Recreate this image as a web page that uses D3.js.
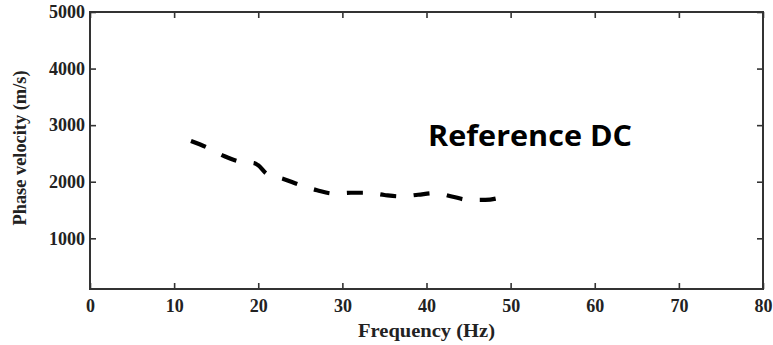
<!DOCTYPE html>
<html><head><meta charset="utf-8">
<script src="https://cdn.jsdelivr.net/npm/d3@7"></script>
<style>body{margin:0;background:#fff}svg{display:block}</style>
</head><body><svg id="c" width="773" height="345"></svg>
<script>
const freq = [12, 14, 16, 18, 19.5, 20, 21, 23, 25, 27, 29, 31, 33, 35, 37, 39, 41, 43, 45, 47, 49];
const velocity = [2720, 2600, 2450, 2350, 2330, 2290, 2140, 2050, 1940, 1850, 1790, 1805, 1805, 1765, 1740, 1770, 1800, 1740, 1680, 1680, 1730];
const xTicks = [0, 10, 20, 30, 40, 50, 60, 70, 80];
const yTicks = [1000, 2000, 3000, 4000, 5000];
const xTitle = "Frequency (Hz)";
const yTitle = "Phase velocity (m/s)";
const label = "Reference DC";

const svg = d3.select("#c");
const L = 90, R = 763, T = 12, B = 289;
const x = d3.scaleLinear().domain([0, 80]).range([L, R]);
const y = d3.scaleLinear().domain([104, 5000]).range([B, T]);
const serif = "'Liberation Serif','Times New Roman',serif";
const axCol = "#333";

function styleAxis(g){
  g.select(".domain").remove();
  g.selectAll(".tick line").attr("stroke", axCol).attr("stroke-width", 1.6);
  g.selectAll("text").attr("font-family", serif).attr("font-weight", "bold")
    .attr("font-size", 18).attr("fill", "#222");
}
svg.append("g").attr("transform", `translate(0,${B})`)
  .call(d3.axisBottom(x).tickValues(xTicks).tickSizeInner(-6).tickSizeOuter(0).tickPadding(10).tickFormat(d3.format("d")))
  .call(styleAxis);
svg.append("g").attr("transform", `translate(0,${T})`)
  .call(d3.axisTop(x).tickValues(xTicks).tickSizeInner(-6).tickSizeOuter(0).tickFormat(""))
  .call(styleAxis);
svg.append("g").attr("transform", `translate(${L},0)`)
  .call(d3.axisLeft(y).tickValues(yTicks).tickSizeInner(-6).tickSizeOuter(0).tickPadding(5).tickFormat(d3.format("d")))
  .call(styleAxis);
svg.append("g").attr("transform", `translate(${R},0)`)
  .call(d3.axisRight(y).tickValues(yTicks).tickSizeInner(-6).tickSizeOuter(0).tickFormat(""))
  .call(styleAxis);

svg.append("rect").attr("x", L).attr("y", T).attr("width", R - L).attr("height", B - T)
  .attr("fill", "none").attr("stroke", axCol).attr("stroke-width", 2);

const line = d3.line().x((d, i) => x(freq[i])).y(d => y(d)).curve(d3.curveMonotoneX);
svg.append("path").datum(velocity).attr("d", line).attr("fill", "none")
  .attr("stroke", "#000").attr("stroke-width", 4.2).attr("stroke-dasharray", "16,17.5");

svg.append("text").attr("x", (358 + 495) / 2).attr("y", 337).attr("text-anchor", "middle")
  .attr("font-family", serif).attr("font-weight", "bold").attr("font-size", 19).attr("fill", "#222")
  .attr("textLength", 137).attr("lengthAdjust", "spacingAndGlyphs").text(xTitle);
svg.append("text").attr("transform", "translate(26,148) rotate(-90)").attr("text-anchor", "middle")
  .attr("font-family", serif).attr("font-weight", "bold").attr("font-size", 18).attr("fill", "#222")
  .attr("textLength", 155).attr("lengthAdjust", "spacingAndGlyphs").text(yTitle);

svg.append("text").attr("x", 428).attr("y", 146).attr("font-family", "'Open Sans','Noto Sans',sans-serif")
  .attr("font-weight", "bold").attr("font-size", 29).attr("fill", "#000")
  .attr("textLength", 204).attr("lengthAdjust", "spacingAndGlyphs").text(label);
</script></body></html>
